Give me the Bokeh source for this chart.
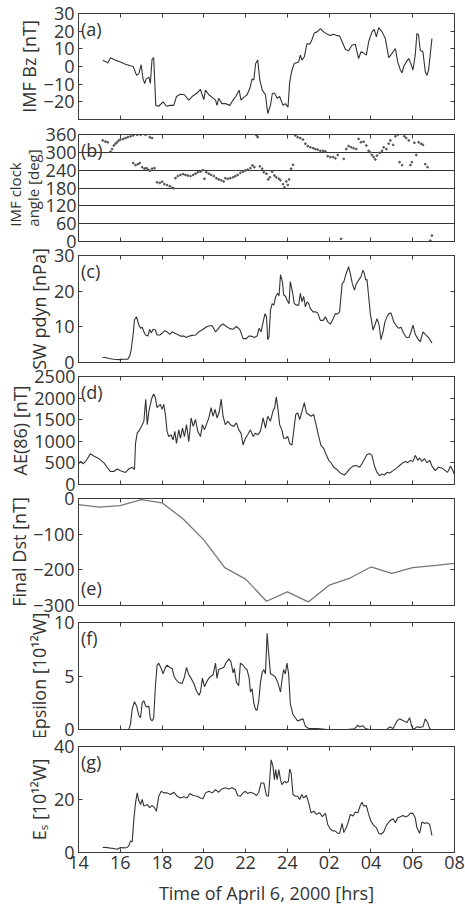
from bokeh.plotting import figure
from bokeh.layouts import column
from bokeh.models import Range1d, FixedTicker, LinearAxis, Label, Title
from bokeh.embed import file_html
from bokeh.resources import INLINE

# ---------------- data ----------------
bz_t = [15.16,15.34,15.40,15.53,15.77,16.01,16.25,16.49,16.62,16.78,16.89,17.00,17.09,17.17,17.24,17.37,17.44,17.52,17.60,17.70,
        17.84,18.05,18.21,18.40,18.56,18.69,18.88,19.07,19.28,19.44,19.68,19.84,19.92,20.00,20.08,20.24,20.40,20.56,20.63,20.71,
        20.87,21.03,21.24,21.40,21.53,21.69,21.78,21.91,22.07,22.20,22.31,22.39,22.48,22.58,22.68,22.80,22.95,23.06,23.19,23.28,
        23.38,23.51,23.63,23.79,23.90,24.03,24.11,24.22,24.33,24.54,24.62,24.70,24.81,24.94,25.07,25.18,25.29,25.42,25.58,25.74,
        25.90,26.06,26.19,26.34,26.50,26.62,26.78,26.93,27.09,27.25,27.41,27.52,27.65,27.78,27.89,28.05,28.16,28.26,28.37,28.53,
        28.69,28.85,29.01,29.17,29.28,29.41,29.49,29.57,29.69,29.81,29.92,30.01,30.12,30.20,30.28,30.36,30.49,30.60,30.68,30.76,
        30.92]
bz_v = [3.6,2.5,2,5,3.6,2.5,1.3,0.4,0,-5,-4,1,-7,-9.6,-7,-6,-9.6,4,5,-22,
        -22.5,-20,-22.5,-22,-22,-17,-15.7,-16,-19,-17,-15,-13,-16,-18.7,-13.4,-16,-17.5,-19,-22,-18,
        -21,-21,-22,-19,-17,-13.4,-19,-17.5,-16,-12.5,-7,-7.7,1.7,3.6,-7.7,-13.4,-16,-26.6,-22,-15.3,
        -15,-18,-17,-22,-21,-23,-8.7,-2,1.7,2.6,6.4,3.6,5.5,13,12.6,15.3,19,19.6,21.5,19.6,
        18.3,17.5,18.3,17.7,17.2,14,9.6,8.9,12,12.6,4.5,8.3,7.7,6.4,14,19.6,21,16.8,22,19.6,
        15.8,5,7.4,10.2,2.6,-2,-3.6,0,2.6,4.5,1.3,-2,6.4,18.7,17.7,9.2,8.3,-3,-5,-2,
        15.8]

clk_t = [15.16,15.29,15.40,15.53,15.61,15.69,15.77,15.85,15.93,16.01,16.14,16.25,16.36,16.49,16.62,16.81,16.97,17.21,17.41,17.52,
         16.62,16.73,16.84,16.93,17.05,17.16,17.25,17.32,17.41,17.52,17.64,17.76,17.89,18.00,18.11,18.24,18.37,18.48,18.56,18.64,
         18.75,18.88,19.01,19.12,19.23,19.36,19.49,19.60,19.71,19.84,19.96,20.03,20.12,20.24,20.35,20.48,20.60,20.71,20.83,20.95,
         21.03,21.15,21.27,21.40,21.51,21.62,21.75,21.88,21.99,22.10,22.23,22.33,22.42,22.52,22.58,22.68,22.79,22.87,23.00,23.08,
         23.16,23.27,23.38,23.47,23.59,23.67,23.79,23.86,23.95,24.02,24.08,24.18,24.27,24.38,24.49,24.62,24.75,24.86,24.97,25.10,
         25.23,25.34,25.45,25.58,25.71,25.82,25.93,26.06,26.19,26.30,26.41,26.57,26.70,26.82,26.93,27.05,27.17,27.30,27.41,27.52,
         27.65,27.78,27.89,27.97,28.05,28.13,28.21,28.29,28.42,28.53,28.61,28.74,28.85,28.93,29.06,29.17,29.28,29.37,29.49,29.60,
         29.69,29.81,29.89,29.96,30.08,30.17,30.28,30.40,30.49,30.60,30.71,30.84,30.92]
clk_v = [340,336,334,302,311,323,329,334,340,343,345,348,351,354,357,359,359,359,351,348,
         264,257,260,264,250,245,247,242,238,245,247,199,197,201,193,190,186,181,179,213,
         220,224,227,224,222,220,224,228,233,235,240,211,233,228,224,220,213,209,206,202,
         213,211,213,216,220,224,231,235,239,242,247,256,250,357,351,253,245,233,228,209,
         216,235,222,216,211,206,193,182,202,190,209,245,258,357,351,348,343,329,321,317,
         314,311,309,305,305,303,287,284,284,280,291,9,278,311,321,317,314,311,345,334,
         336,323,305,300,291,284,276,289,298,305,317,311,329,340,325,354,359,267,257,354,
         348,340,257,267,332,291,334,329,325,260,250,3,20]

pdyn_t = [15.16,15.29,15.45,15.69,15.93,16.17,16.36,16.46,16.52,16.62,16.68,16.78,16.89,16.97,17.05,17.13,17.21,17.32,17.41,17.48,
          17.57,17.68,17.76,17.89,18.00,18.11,18.24,18.37,18.48,18.59,18.72,18.88,19.04,19.17,19.30,19.44,19.60,19.76,19.92,20.03,
          20.16,20.28,20.40,20.56,20.67,20.79,20.92,21.08,21.24,21.40,21.56,21.72,21.88,22.04,22.15,22.26,22.42,22.55,22.64,22.74,
          22.84,22.93,23.00,23.06,23.12,23.19,23.27,23.35,23.44,23.54,23.60,23.67,23.76,23.82,23.92,23.98,24.08,24.14,24.24,24.33,
          24.43,24.54,24.62,24.70,24.78,24.86,24.94,25.02,25.10,25.23,25.34,25.45,25.58,25.71,25.82,25.93,26.06,26.19,26.30,26.41,
          26.50,26.62,26.70,26.79,26.85,26.93,27.01,27.11,27.21,27.30,27.41,27.52,27.62,27.68,27.75,27.81,27.89,27.97,28.10,28.19,
          28.29,28.39,28.48,28.58,28.67,28.77,28.86,28.96,29.09,29.22,29.33,29.44,29.57,29.69,29.82,29.92,30.01,30.12,30.24,30.36,
          30.49,30.60,30.76,30.92]
pdyn_v = [1.4,1.4,1.1,0.9,0.8,0.9,0.9,2.0,3.5,8.2,12.0,12.8,10.5,9.6,9.9,8.6,7.7,7.4,9.3,8.3,
          9.3,9.1,7.7,7.7,8.2,8.9,8.6,7.9,8.6,8.3,7.9,7.4,7.4,7.0,7.4,7.6,7.7,8.6,9.1,9.6,
          10.1,10.3,10.3,8.6,9.3,10.3,10.8,10.1,9.5,9.3,10.1,9.3,6.7,6.7,7.4,7.4,7.0,7.4,9.6,8.6,
          11.4,13.7,12.8,6.4,7.2,14.6,16.5,16.1,18.5,19.4,18.7,24.6,22.7,19.0,18.5,17.5,16.5,22.7,19.9,16.5,
          16.1,16.1,19.4,17.0,18.5,15.6,17.0,16.5,15.1,14.2,14.2,13.9,11.8,11.8,12.8,11.4,10.8,12.3,13.7,13.6,
          14.2,22.1,22.6,24.5,25.5,26.9,25.0,22.1,20.3,22.1,23.1,24.0,25.9,25.0,23.1,23.3,18.5,13.7,9.1,10.5,
          12.3,10.5,6.4,8.6,11.4,12.8,13.7,13.9,11.4,10.3,9.6,9.9,8.2,7.0,7.0,8.6,10.5,7.9,6.7,5.8,
          8.6,7.9,7.0,5.5]

ae_t = [14.00,14.10,14.22,14.38,14.57,14.73,14.97,15.21,15.37,15.53,15.69,15.85,16.01,16.25,16.41,16.57,16.68,16.73,16.81,16.93,
        17.05,17.13,17.22,17.29,17.37,17.44,17.52,17.60,17.68,17.76,17.84,17.92,18.00,18.08,18.16,18.24,18.32,18.43,18.53,18.61,
        18.69,18.80,18.88,18.98,19.07,19.17,19.28,19.39,19.49,19.60,19.71,19.84,19.93,20.03,20.12,20.24,20.35,20.44,20.54,20.63,
        20.73,20.83,20.92,21.03,21.15,21.27,21.43,21.56,21.67,21.78,21.88,21.99,22.10,22.23,22.36,22.47,22.58,22.71,22.84,22.95,
        23.06,23.19,23.31,23.39,23.47,23.54,23.63,23.74,23.82,23.92,24.02,24.11,24.22,24.30,24.40,24.49,24.59,24.70,24.81,24.91,
        25.02,25.13,25.26,25.39,25.50,25.61,25.74,25.87,25.98,26.09,26.22,26.34,26.50,26.62,26.73,26.85,26.98,27.14,27.30,27.46,
        27.57,27.68,27.81,27.94,28.05,28.16,28.29,28.42,28.53,28.64,28.77,28.90,29.06,29.22,29.37,29.53,29.65,29.76,29.89,30.01,
        30.12,30.24,30.33,30.44,30.56,30.68,30.81,30.92,31.08,31.24,31.40,31.56,31.67,31.80,31.89,31.99]
ae_v = [480,535,480,560,710,660,600,505,400,300,300,360,320,280,360,400,345,950,1190,1265,
        1385,1465,1975,1385,1700,1855,2015,2095,2015,1780,1820,1855,1740,1855,1620,1230,1110,1150,1030,1230,
        950,1265,1070,1305,1110,1385,990,1540,1345,1505,1230,1110,1385,1265,1385,1540,1780,1580,1740,1540,
        1660,1975,1580,1385,1465,1385,1345,1425,1265,1190,915,1070,1150,1265,1110,1190,1150,1230,1540,1305,
        1580,1465,1700,1780,2030,1780,1385,1265,1070,1070,1110,950,915,1230,1620,1660,1505,1700,1895,1660,
        1620,1580,1620,1345,1110,900,835,675,560,505,400,360,280,245,220,280,360,425,440,400,
        480,580,690,715,675,440,280,205,245,220,280,265,320,380,440,505,535,505,560,535,
        675,560,615,535,600,505,560,425,320,400,380,320,280,425,360,245]

dst_t = [14,15,16,17,18,19,20,21,22,23,24,25,26,27,28,29,30,31,32]
dst_v = [-17,-24,-20,-3,-12,-57,-116,-194,-226,-288,-262,-290,-243,-223,-192,-210,-194,-188,-182]

eps_t = [15.16,16.41,16.49,16.57,16.68,16.78,16.89,16.97,17.05,17.13,17.21,17.29,17.37,17.44,17.52,17.60,17.68,17.76,17.84,17.96,
         18.05,18.16,18.24,18.37,18.48,18.59,18.69,18.80,18.96,19.07,19.17,19.28,19.39,19.52,19.65,19.77,19.84,19.93,20.03,20.12,
         20.24,20.35,20.44,20.56,20.63,20.71,20.83,20.95,21.08,21.21,21.30,21.40,21.46,21.56,21.67,21.75,21.88,21.99,22.07,22.17,
         22.23,22.31,22.39,22.47,22.55,22.63,22.71,22.79,22.87,22.95,23.03,23.11,23.19,23.31,23.42,23.54,23.67,23.74,23.82,23.90,
         23.98,24.06,24.14,24.27,24.38,24.49,24.62,24.75,24.86,25.02,25.42,25.82,26.22,26.85,27.21,27.37,27.46,27.62,27.73,27.89,
         28.29,28.77,28.90,29.06,29.25,29.37,29.57,29.73,29.85,29.96,30.04,30.20,30.33,30.49,30.60,30.71,30.81,30.87]
eps_v = [0,0,0.5,1.9,2.6,2.2,1.3,1.1,2.5,2.7,2.2,2.1,2.2,1.0,0.8,1.1,4.0,6.0,6.2,5.7,
         5.2,5.8,6.0,5.8,5.7,4.9,4.6,4.4,4.3,4.9,5.8,5.1,4.8,4.3,3.6,3.2,3.5,4.8,4.0,4.4,
         4.8,5.0,5.1,6.2,4.8,5.6,5.7,5.8,6.3,6.6,6.3,5.3,5.7,4.4,4.1,6.2,6.0,5.7,5.6,4.8,
         3.5,3.8,2.5,1.9,1.8,2.7,4.4,5.3,5.6,5.2,9.0,7.0,5.2,5.1,4.9,4.4,3.5,4.6,5.6,5.2,
         6.2,5.2,2.4,1.4,1.1,0.8,0.9,1.0,0.3,0.1,0.1,0.03,0,0,0.06,0.4,0.25,0.35,0.1,0.03,
         0,0.03,0.25,0.1,0.8,1.0,0.8,0.66,1.1,0.25,0,0.25,0.2,0.25,1.0,0.66,0.1,0]

es_t = [15.16,15.29,15.45,15.69,15.85,16.01,16.17,16.33,16.41,16.49,16.57,16.65,16.73,16.81,16.89,16.97,17.05,17.13,17.29,17.41,
        17.52,17.64,17.73,17.84,17.96,18.08,18.24,18.40,18.56,18.72,18.88,19.04,19.20,19.33,19.49,19.68,19.84,19.96,20.08,20.24,
        20.40,20.56,20.71,20.87,21.03,21.19,21.35,21.51,21.62,21.75,21.88,21.99,22.10,22.23,22.39,22.52,22.63,22.74,22.87,23.00,
        23.09,23.16,23.22,23.31,23.38,23.44,23.51,23.59,23.67,23.74,23.86,23.95,24.05,24.11,24.18,24.27,24.38,24.49,24.59,24.69,
        24.78,24.91,25.02,25.13,25.26,25.39,25.55,25.67,25.82,25.93,26.06,26.19,26.30,26.41,26.50,26.62,26.70,26.82,26.93,27.01,
        27.14,27.25,27.37,27.49,27.57,27.65,27.78,27.89,28.00,28.13,28.26,28.37,28.48,28.61,28.74,28.90,29.06,29.17,29.28,29.41,
        29.53,29.65,29.76,29.89,30.01,30.12,30.20,30.33,30.44,30.56,30.68,30.81,30.92]
es_v = [1.9,2.0,1.75,1.5,1.25,1.9,1.75,1.9,2.5,4.4,4.0,12.5,18.75,22.5,19.4,18.1,20,17.5,18.1,16.9,
        17.75,16.9,15.6,21.25,23.1,22.5,22.5,21.9,22.75,21.25,20.6,21,20.6,22.25,21.5,21.25,20.6,20.25,22.5,23.1,
        22.5,23.75,22.75,24,24.4,24,24.4,23.75,21.5,21.25,22.5,23.1,22.25,22.75,22.25,21.5,22.75,26.25,26.25,21.5,
        21.25,28.1,35,32.5,27.5,31.25,27.5,31.25,27.5,25.6,26.9,26.25,26.9,31.5,30,21.9,21.25,21.25,20,21.9,
        20.6,21.5,18.75,15,15.6,14.4,15,13.5,14.75,10.6,8.75,8.1,8.1,7.25,7.25,11,7.5,9.4,11.9,14.4,
        13.75,15.25,15,17.75,19,17.5,17.75,14.4,11.9,10.25,9.4,7.25,6.9,7.75,10.25,11.9,12.75,11.25,13.1,13.5,
        14,13.5,13.75,14.75,14.75,13.1,9.4,7.25,11.5,11,11.25,10.6,6.5]

x_ticks = [14, 16, 18, 20, 22, 24, 26, 28, 30, 32]
x_tick_labels = ["14", "16", "18", "20", "22", "24", "02", "04", "06", "08"]
x_title = "Time of April 6, 2000 [hrs]"

# ---------------- styling ----------------
FONT = "Open Sans"
FS = "18px"
TXT = "#333333"
AX = "#3a3a3a"
W = 465


def panel(height, top, bottom, yr, yticks, ylabel, letter, letter_top=True, show_x=False,
          grid=False, label_size=FS, label_lh=1.2, tick_standoff=4):
    p = figure(width=W, height=height, x_range=Range1d(14, 32), y_range=Range1d(*yr),
               output_backend="svg", toolbar_location=None, tools="",
               min_border_left=78, min_border_right=11, min_border_top=top, min_border_bottom=bottom,
               x_axis_location=None, y_axis_location=None)
    p.outline_line_color = AX
    p.outline_line_width = 1
    p.background_fill_color = "white"
    p.border_fill_color = None
    p.xgrid.visible = False
    if grid:
        p.ygrid.ticker = FixedTicker(ticks=yticks)
        p.ygrid.grid_line_color = "#333333"
        p.ygrid.grid_line_width = 1
    else:
        p.ygrid.visible = False

    def mk(ticks, labels_on):
        ax = LinearAxis(ticker=FixedTicker(ticks=ticks))
        ax.major_tick_in = 4
        ax.major_tick_out = 0
        ax.minor_tick_in = 0
        ax.minor_tick_out = 0
        ax.axis_line_color = AX
        ax.major_tick_line_color = AX
        ax.major_label_text_font = FONT
        if labels_on:
            ax.major_label_text_font_size = FS
            ax.major_label_text_color = TXT
        else:
            ax.major_label_text_font_size = "1px"
            ax.major_label_text_color = None
            ax.major_label_standoff = 0
        return ax

    left = mk(yticks, True)
    left.major_label_standoff = tick_standoff
    p.add_layout(left, "left")
    p.add_layout(mk(yticks, False), "right")
    p.add_layout(mk(x_ticks, False), "above")
    bot = mk(x_ticks, show_x)
    if show_x:
        bot.major_label_overrides = {t: l for t, l in zip(x_ticks, x_tick_labels)}
        bot.major_label_standoff = 3
        bot.axis_label = x_title
        bot.axis_label_text_font = FONT
        bot.axis_label_text_font_size = FS
        bot.axis_label_text_font_style = "normal"
        bot.axis_label_text_color = TXT
        bot.axis_label_standoff = 9
    p.add_layout(bot, "below")

    # y axis title, placed in the left border
    p.add_layout(Title(text=ylabel, align="center", standoff=0, offset=0,
                       text_font=FONT, text_font_size=label_size, text_font_style="normal",
                       text_color=TXT, text_line_height=label_lh), "left")

    if letter_top:
        lab = Label(x=14.12, y=yr[1], y_offset=-3, text=letter, text_baseline="top",
                    text_font=FONT, text_font_size=FS, text_color=TXT)
    else:
        lab = Label(x=14.12, y=yr[0], y_offset=6, text=letter, text_baseline="bottom",
                    text_font=FONT, text_font_size=FS, text_color=TXT)
    p.add_layout(lab)
    return p


LINE = "#333333"

pa = panel(122, 13, 3, (-30, 30), [-20, -10, 0, 10, 20, 30], "IMF Bz [nT]", "(a)")
pa.line(bz_t, bz_v, line_color=LINE, line_width=1.1)

pb = panel(126, 12, 7, (0, 360), [0, 60, 120, 180, 240, 300, 360], "IMF clock\nangle [deg]", "(b)",
           grid=True, label_size="15px", label_lh=0.9, tick_standoff=2)
pb.scatter(clk_t, clk_v, size=1.8, color="#555555")

pc = panel(121, 7, 7, (0, 30), [0, 10, 20, 30], "SW pdyn [nPa]", "(c)")
pc.line(pdyn_t, pdyn_v, line_color=LINE, line_width=1.1)

pd = panel(122, 7, 7, (0, 2500), [0, 500, 1000, 1500, 2000, 2500], "AE(86) [nT]", "(d)", tick_standoff=3)
pd.line(ae_t, ae_v, line_color=LINE, line_width=1.1)

pe = panel(122, 7, 8, (-300, 0), [-300, -200, -100, 0], "Final Dst [nT]", "(e)", letter_top=False)
pe.line(dst_t, dst_v, line_color="#777777", line_width=1.3)

pf = panel(124, 9, 8, (0, 10), [0, 5, 10], "Epsilon [10\u00b9\u00b2W]", "(f)")
pf.line(eps_t, eps_v, line_color=LINE, line_width=1.1)

pg = panel(170, 9, 55, (0, 40), [0, 20, 40], "E\u209b [10\u00b9\u00b2W]", "(g)", show_x=True)
pg.line(es_t, es_v, line_color=LINE, line_width=1.1)

layout = column(pa, pb, pc, pd, pe, pf, pg, spacing=0)
open("out.html", "w").write(file_html(layout, INLINE))
